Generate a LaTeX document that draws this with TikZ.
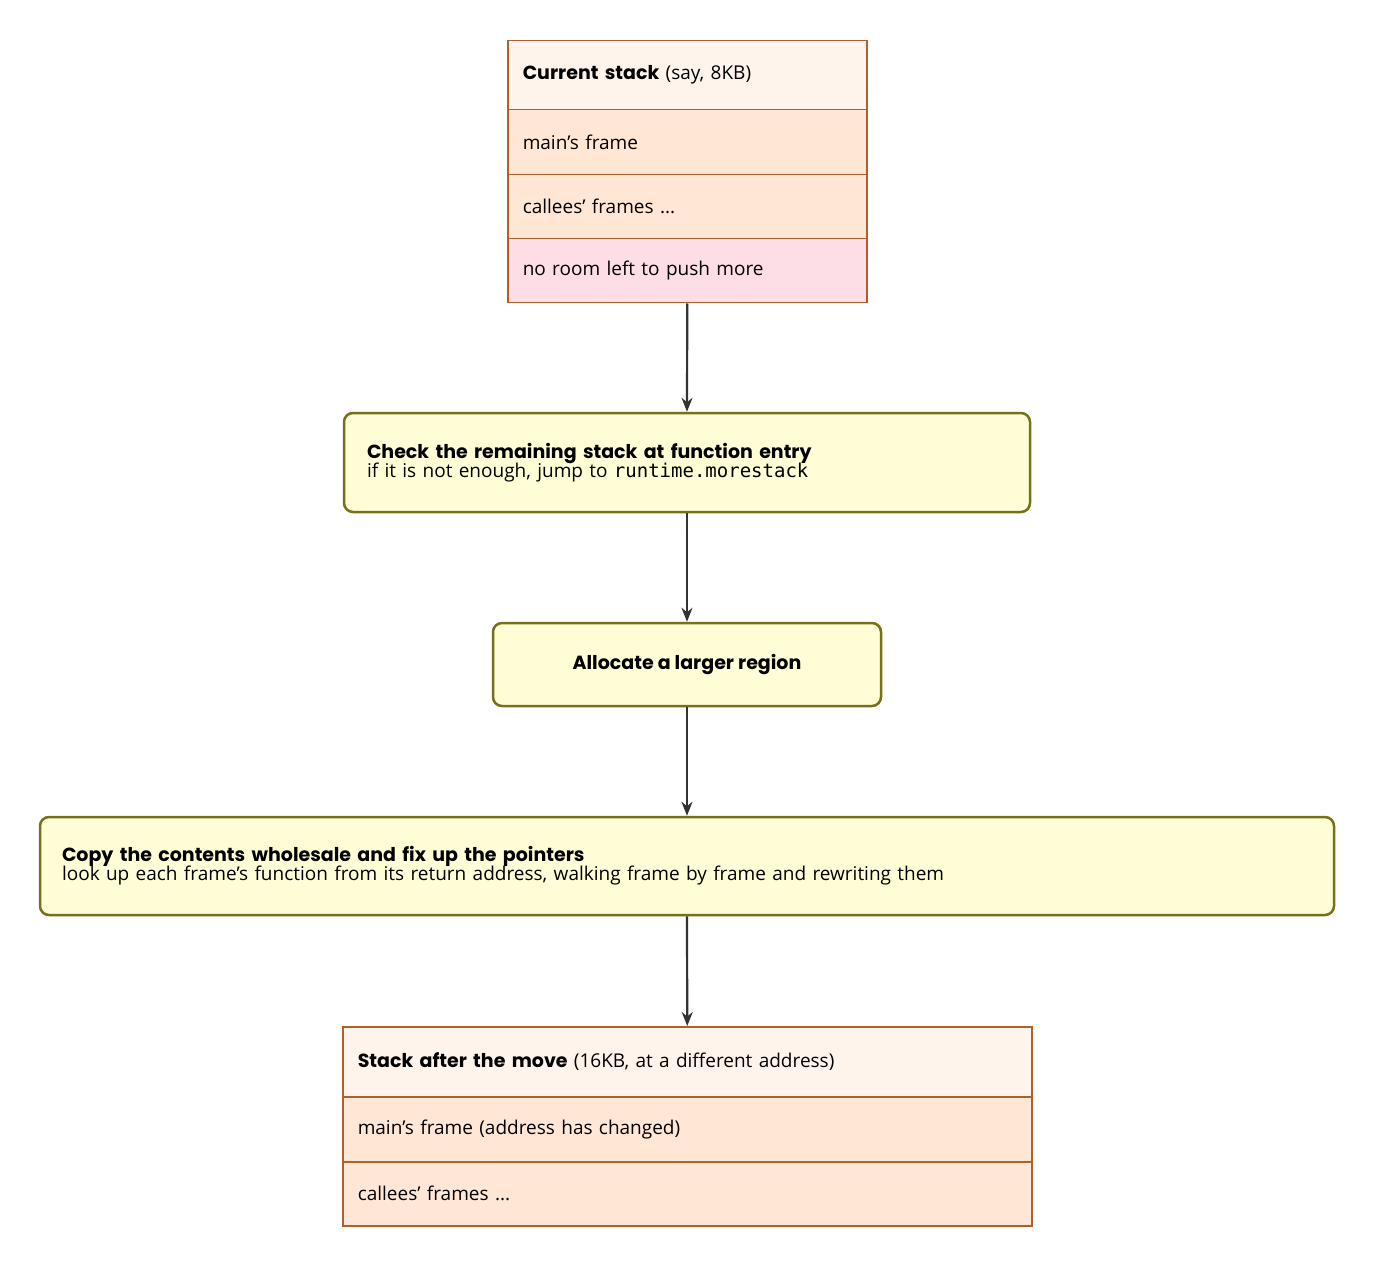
\documentclass[tikz,border=0pt]{standalone}
\usepackage{fontspec}
\setmainfont{Open Sans}
\newfontfamily\popfam{Poppins}
\newcommand\pbf{\popfam\bfseries}
\newfontfamily\mono{DejaVu Sans Mono}
\usetikzlibrary{arrows.meta}
\definecolor{hdr}{HTML}{FFF4EC}
\definecolor{row}{HTML}{FFE6D5}
\definecolor{pinkr}{HTML}{FDDDE6}
\definecolor{brd}{HTML}{B0602A}
\definecolor{yel}{HTML}{FFFDD6}
\definecolor{ybrd}{HTML}{75701A}
\tikzset{
 cell/.style={draw=brd,line width=1.5pt,minimum height=#1,anchor=north west,inner xsep=15pt,align=left,font=\fontsize{19}{22}\selectfont},
 flowstep/.style={draw=ybrd,fill=yel,line width=2.5pt,rounded corners=9pt,font=\fontsize{19}{22}\selectfont,align=left},
 arr/.style={-{Stealth[length=14pt,width=11pt]},line width=2.2pt,draw=black!80}
}
\begin{document}
\begin{tikzpicture}[x=1pt,y=-1pt]
\useasboundingbox (0,0) rectangle (1374,1265);
\newcommand\cellbox[6]{\node[cell=#4,fill=#5,minimum width=#3,text width=#3-30pt] (#1) at #2 {#6};}
\cellbox{a1}{(507,40)}{359pt}{69pt}{hdr}{{\pbf Current stack} (say, 8KB)}
\cellbox{a2}{(507,109)}{359pt}{65pt}{row}{main's frame}
\cellbox{a3}{(507,174)}{359pt}{64pt}{row}{callees' frames ...}
\cellbox{a4}{(507,238)}{359pt}{64pt}{pinkr}{no room left to push more}
\node[flowstep,minimum width=686pt,minimum height=99pt,text width=640pt] (b) at (687,462.5) {{\pbf Check the remaining stack at function entry}\\[-3pt]if it is not enough, jump to {\mono runtime.morestack}};
\node[flowstep,minimum width=388pt,minimum height=83pt,align=center] (c) at (687,664.5) {\pbf Allocate a larger region};
\node[flowstep,minimum width=1294pt,minimum height=98pt,text width=1250pt] (d) at (687,866) {{\pbf Copy the contents wholesale and fix up the pointers}\\[-3pt]look up each frame's function from its return address, walking frame by frame and rewriting them};
\cellbox{e1}{(342,1026)}{689pt}{70pt}{hdr}{{\pbf Stack after the move} (16KB, at a different address)}
\cellbox{e2}{(342,1096)}{689pt}{65pt}{row}{main's frame (address has changed)}
\cellbox{e3}{(342,1161)}{689pt}{64pt}{row}{callees' frames ...}
\draw[arr] (a4.south) -- (b.north);
\draw[arr] (b.south) -- (c.north);
\draw[arr] (c.south) -- (d.north);
\draw[arr] (d.south) -- (e1.north);
\end{tikzpicture}
\end{document}
